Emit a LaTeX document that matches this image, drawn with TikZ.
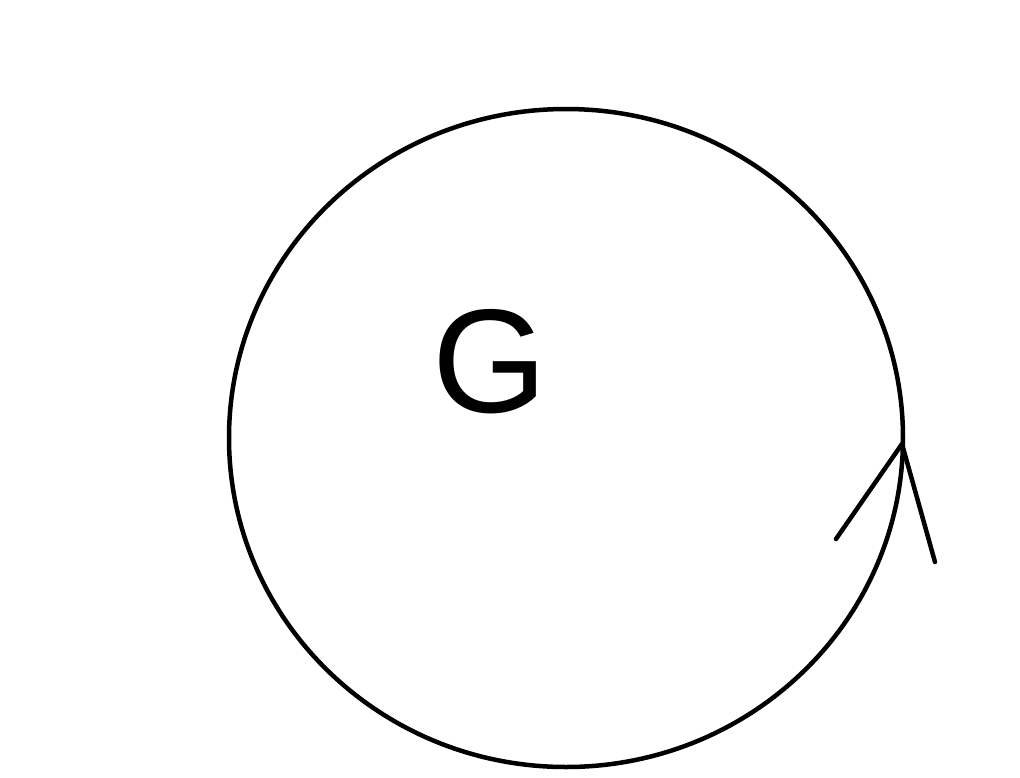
\documentclass[tikz,border=0pt]{standalone}
\usepackage{fontspec}
\setmainfont{Liberation Sans}
\begin{document}
\begin{tikzpicture}[x=0.01cm,y=-0.01cm,
  line/.style={line width=0.045cm, black},
  label/.style={font=\fontsize{42}{48}\selectfont, inner sep=0pt}]
\useasboundingbox (0,0) rectangle (1020,778);
\draw[line] (566,438) ellipse [x radius=337, y radius=329];
\coordinate (tip) at (902,444);
\coordinate (l) at (836,539);
\coordinate (r) at (935,562);
\draw[line, line cap=round] (l) -- (tip) -- (r);
\node[label] (g) at (490,362) {G};
\end{tikzpicture}
\end{document}
